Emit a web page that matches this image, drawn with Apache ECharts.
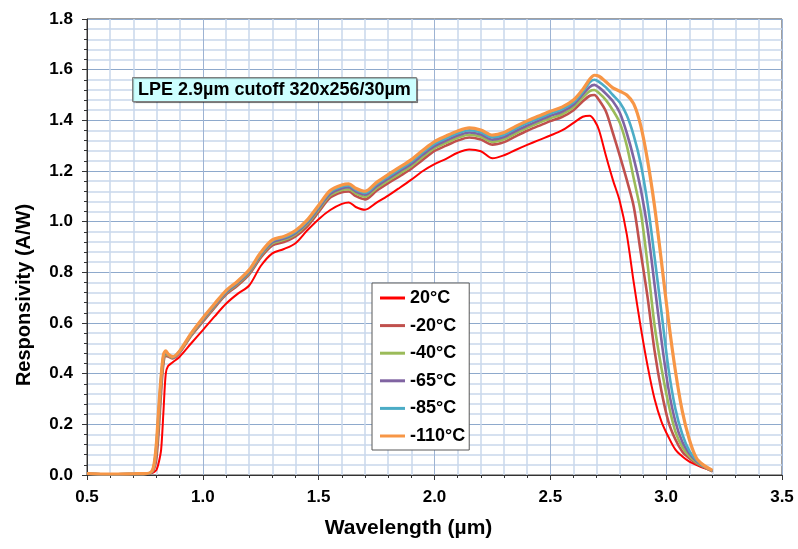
<!DOCTYPE html>
<html><head><meta charset="utf-8">
<script src="https://cdn.jsdelivr.net/npm/echarts@6/dist/echarts.min.js"></script>
<style>html,body{margin:0;padding:0;background:#fff}#chart{width:798px;height:549px}</style>
</head><body><div id="chart"></div>
<script>
// Wavelength grid (µm)
const wavelength = [0.50,0.60,0.70,0.76,0.78,0.79,0.80,0.81,0.82,0.83,0.84,0.85,0.87,0.90,0.95,
  1.00,1.05,1.10,1.15,1.20,1.25,1.30,1.35,1.40,1.45,1.50,1.55,1.60,1.63,1.66,
  1.70,1.75,1.80,1.85,1.90,1.95,2.00,2.05,2.10,2.15,2.20,2.25,2.30,2.35,2.40,2.45,2.50,2.55,2.60,
  2.64,2.67,2.69,2.71,2.74,2.77,2.80,2.83,2.86,2.89,2.92,2.95,2.98,3.01,3.04,3.07,3.10,3.13,3.16,3.20];

const seriesNames = ['20°C','-20°C','-40°C','-65°C','-85°C','-110°C'];

// Responsivity (A/W)
const resp20 = [0.005,0.003,0.004,0.005, 0.008,0.012,0.02,0.05,0.10,0.25,0.40,0.43, 0.445,0.467,0.52,
  0.572,0.625,0.676,0.715,0.748,0.825,0.875,0.892,0.915,0.965,1.01,1.046,1.07,1.076,1.058,
  1.047,1.075,1.103,1.134,1.166,1.20,1.227,1.248,1.272,1.285,1.278,1.25,1.262,1.283,1.303,1.322,1.34,1.36,1.39,
  1.414,1.418,1.40,1.362,1.26,1.165,1.08,0.95,0.76,0.585,0.43,0.30,0.21,0.15,0.10,0.073,0.053,0.04,0.028,0.015];
const respM20 = [0.005,0.003,0.004,0.005, 0.01,0.025,0.07,0.18,0.33,0.44,0.47,0.468, 0.46,0.483,0.55,
  0.605,0.66,0.712,0.748,0.792,0.858,0.906,0.92,0.942,0.981,1.038,1.095,1.116,1.119,1.101,
  1.088,1.122,1.152,1.18,1.209,1.245,1.279,1.30,1.32,1.332,1.324,1.304,1.314,1.337,1.359,1.378,1.397,1.413,1.44,
  1.475,1.497,1.50,1.48,1.435,1.35,1.26,1.165,1.06,0.88,0.70,0.49,0.33,0.21,0.14,0.092,0.066,0.046,0.032,0.015];
const respM40 = [0.005,0.003,0.004,0.005, 0.012,0.035,0.10,0.22,0.36,0.455,0.478,0.472, 0.462,0.486,0.553,
  0.61,0.665,0.717,0.754,0.798,0.865,0.914,0.928,0.95,0.99,1.047,1.104,1.125,1.128,1.111,
  1.098,1.132,1.162,1.19,1.219,1.256,1.29,1.311,1.331,1.343,1.335,1.315,1.325,1.348,1.37,1.39,1.408,1.424,1.452,
  1.49,1.515,1.52,1.508,1.48,1.44,1.39,1.30,1.17,1.04,0.83,0.59,0.42,0.28,0.17,0.11,0.075,0.05,0.034,0.015];
const respM65 = [0.005,0.003,0.004,0.005, 0.013,0.04,0.115,0.245,0.375,0.465,0.484,0.475, 0.464,0.487,0.556,
  0.613,0.668,0.72,0.758,0.802,0.869,0.919,0.933,0.955,0.995,1.053,1.11,1.132,1.136,1.119,
  1.106,1.14,1.17,1.199,1.228,1.265,1.298,1.32,1.34,1.352,1.344,1.324,1.334,1.358,1.379,1.399,1.418,1.434,1.462,
  1.502,1.532,1.54,1.53,1.505,1.475,1.43,1.35,1.25,1.13,0.97,0.75,0.53,0.34,0.21,0.13,0.085,0.055,0.036,0.016];
const respM85 = [0.005,0.003,0.004,0.005, 0.014,0.042,0.125,0.26,0.385,0.47,0.487,0.477, 0.466,0.489,0.558,
  0.617,0.672,0.724,0.762,0.806,0.873,0.924,0.938,0.96,1.0,1.059,1.117,1.139,1.143,1.126,
  1.113,1.148,1.178,1.207,1.237,1.274,1.307,1.329,1.349,1.361,1.353,1.333,1.343,1.367,1.389,1.408,1.427,1.443,1.471,
  1.512,1.55,1.56,1.552,1.53,1.50,1.47,1.42,1.34,1.23,1.07,0.86,0.64,0.42,0.26,0.16,0.095,0.06,0.038,0.017];
const respM110 = [0.006,0.004,0.005,0.006, 0.015,0.045,0.13,0.27,0.39,0.475,0.49,0.478, 0.467,0.49,0.56,
  0.62,0.675,0.728,0.765,0.81,0.878,0.928,0.942,0.965,1.006,1.065,1.123,1.145,1.149,1.132,
  1.12,1.155,1.186,1.215,1.245,1.282,1.316,1.338,1.358,1.37,1.362,1.342,1.352,1.376,1.398,1.417,1.436,1.452,1.48,
  1.522,1.562,1.578,1.574,1.552,1.528,1.515,1.50,1.465,1.38,1.24,1.06,0.84,0.61,0.41,0.25,0.14,0.068,0.04,0.018];

const annotation = 'LPE 2.9µm cutoff 320x256/30µm';

const allResp = [resp20, respM20, respM40, respM65, respM85, respM110];
const colors = ['#ff0000','#c0504d','#9bbb59','#8064a2','#4bacc6','#f79646'];
const widths = [2, 2.6, 2.6, 2.6, 2.6, 3.2];
const FONT = '"Liberation Sans", Arial, sans-serif';

const chart = echarts.init(document.getElementById('chart'));
chart.setOption({
  animation: false,
  backgroundColor: '#ffffff',
  textStyle: { fontFamily: FONT },
  title: {
    text: annotation,
    left: 132, top: 77,
    padding: [4, 6, 3, 6],
    backgroundColor: '#ccffff',
    borderColor: '#7f7f7f',
    borderWidth: 1,
    shadowColor: 'rgba(0,0,0,0.35)', shadowOffsetX: 1, shadowOffsetY: 1, shadowBlur: 1,
    textStyle: { fontFamily: FONT, fontSize: 18, fontWeight: 'bold', color: '#000' }
  },
  legend: {
    orient: 'vertical',
    left: 372, top: 283,
    padding: [5, 4, 4, 8],
    itemWidth: 25, itemHeight: 3, itemGap: 7.6,
    icon: 'rect',
    backgroundColor: '#ffffff',
    borderColor: '#595959', borderWidth: 1,
    textStyle: { fontFamily: FONT, fontSize: 18, fontWeight: 'bold', color: '#000', lineHeight: 20 },
    data: seriesNames
  },
  grid: {
    left: 87, right: 16, top: 19, bottom: 74,
    show: true, borderColor: '#404040', borderWidth: 1, backgroundColor: '#ffffff'
  },
  xAxis: {
    type: 'value', min: 0.5, max: 3.5, interval: 0.5,
    name: 'Wavelength (µm)', nameLocation: 'middle', nameGap: 43,
    nameTextStyle: { fontFamily: FONT, fontSize: 21, fontWeight: 'bold', color: '#000', padding: [0, 52, 0, 0] },
    axisLine: { lineStyle: { color: '#333', width: 1 } },
    axisTick: { show: true, inside: false, length: 5, lineStyle: { color: '#333' } },
    minorTick: { show: true, splitNumber: 5, length: 3, lineStyle: { color: '#333' } },
    axisLabel: { fontFamily: FONT, fontSize: 17, fontWeight: 'bold', color: '#000', margin: 14,
      formatter: v => v.toFixed(1) },
    splitLine: { show: true, lineStyle: { color: '#9db3d3', width: 1 } },
    minorSplitLine: { show: true, lineStyle: { color: '#c9d8ec', width: 1.5 } }
  },
  yAxis: {
    type: 'value', min: 0, max: 1.8, interval: 0.2,
    name: 'Responsivity (A/W)', nameLocation: 'middle', nameGap: 53,
    nameTextStyle: { fontFamily: FONT, fontSize: 20, fontWeight: 'bold', color: '#000', padding: [0, 96, 0, 0] },
    axisLine: { show: true, lineStyle: { color: '#333', width: 1 } },
    axisTick: { show: true, inside: false, length: 5, lineStyle: { color: '#333' } },
    minorTick: { show: true, splitNumber: 5, length: 3, lineStyle: { color: '#333' } },
    axisLabel: { fontFamily: FONT, fontSize: 17, fontWeight: 'bold', color: '#000', margin: 14,
      formatter: v => v.toFixed(1) },
    splitLine: { show: true, lineStyle: { color: '#8ea9cc', width: 1 } },
    minorSplitLine: { show: true, lineStyle: { color: '#c9d8ec', width: 1.5 } }
  },
  series: allResp.map((vals, i) => ({
    name: seriesNames[i],
    type: 'line',
    data: wavelength.map((w, j) => [w, vals[j]]),
    symbol: 'none',
    smooth: 0.3,
    lineStyle: { color: colors[i], width: widths[i] },
    itemStyle: { color: colors[i] }
  }))
});
</script></body></html>
